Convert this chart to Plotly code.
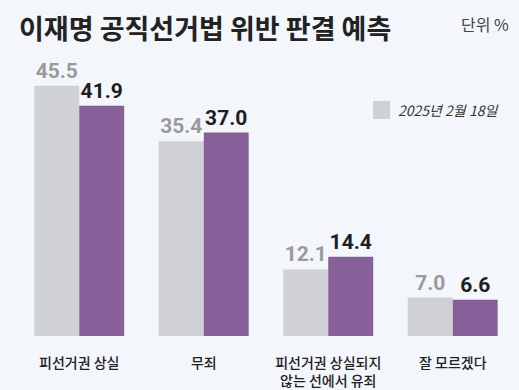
import plotly.graph_objects as go

categories = ["피선거권 상실", "무죄", "피선거권 상실되지<br>않는 선에서 유죄", "잘 모르겠다"]
series_a_name = "2025년 2월 18일"
series_a = [45.5, 35.4, 12.1, 7.0]
series_b = [41.9, 37.0, 14.4, 6.6]

title_text = "이재명 공직선거법 위반 판결 예측"
unit_text = "단위 %"

BG = "#f3f6fb"
GRAY = "#d0d1d5"
PURPLE = "#87609a"
KFONT = "Noto Sans CJK KR"
NFONT = "Liberation Sans Narrow, Roboto, sans-serif"

W, H = 519, 390
ML, MR, MT, MB = 17, 4, 60, 54
PW, PH = W - ML - MR, H - MT - MB


def px(x):
    return (x - ML) / PW


def py(y):
    return (H - MB - y) / PH


fig = go.Figure()
fig.add_trace(go.Bar(
    x=categories, y=series_a, name=series_a_name,
    marker=dict(color=GRAY, line=dict(width=0)),
    text=[f"{v:.1f}" for v in series_a], textposition="outside",
    textfont=dict(family=NFONT, size=21, color="#9a9a9c", weight=700),
    constraintext="none", cliponaxis=False, showlegend=False,
))
fig.add_trace(go.Bar(
    x=categories, y=series_b, name="",
    marker=dict(color=PURPLE, line=dict(width=0)),
    text=[f"{v:.1f}" for v in series_b], textposition="outside",
    textfont=dict(family=NFONT, size=21, color="#1e1e1e", weight=700),
    constraintext="none", cliponaxis=False, showlegend=False,
))

fig.update_layout(
    width=W, height=H, autosize=False,
    margin=dict(l=ML, r=MR, t=MT, b=MB, pad=0, autoexpand=False),
    paper_bgcolor=BG, plot_bgcolor=BG,
    barmode="group", bargap=0.278, bargroupgap=0,
    hovermode=False,
    xaxis=dict(range=[-0.5, 3.5], autorange=False, automargin=False,
               showgrid=False, showline=False, zeroline=False, ticks="",
               tickfont=dict(family=KFONT, size=14, color="#222222", weight=500),
               ticklabelstandoff=17, fixedrange=True),
    yaxis=dict(range=[0, 50.2], autorange=False, automargin=False, visible=False,
               showgrid=False, zeroline=False, fixedrange=True),
    showlegend=False,
    annotations=[
        dict(text=f"<b>{title_text}</b>", x=px(17), y=py(28), xref="paper", yref="paper",
             xanchor="left", yanchor="middle", showarrow=False,
             font=dict(family=KFONT, size=27, color="#222222")),
        dict(text=unit_text, x=px(511), y=py(24), xref="paper", yref="paper",
             xanchor="right", yanchor="middle", showarrow=False,
             font=dict(family=KFONT, size=16, color="#444444")),
        dict(text=f"<i>{series_a_name}</i>", x=px(396), y=py(110), xref="paper", yref="paper",
             xanchor="left", yanchor="middle", showarrow=False,
             font=dict(family=KFONT, size=14, color="#333333")),
    ],
    shapes=[
        dict(type="rect", xref="paper", yref="paper",
             x0=px(373), x1=px(390), y0=py(119), y1=py(101),
             fillcolor=GRAY, line=dict(width=0)),
    ],
)

fig.write_html("out.html", config={"displayModeBar": False, "staticPlot": True},
               post_script="document.body.style.margin='0px';")
